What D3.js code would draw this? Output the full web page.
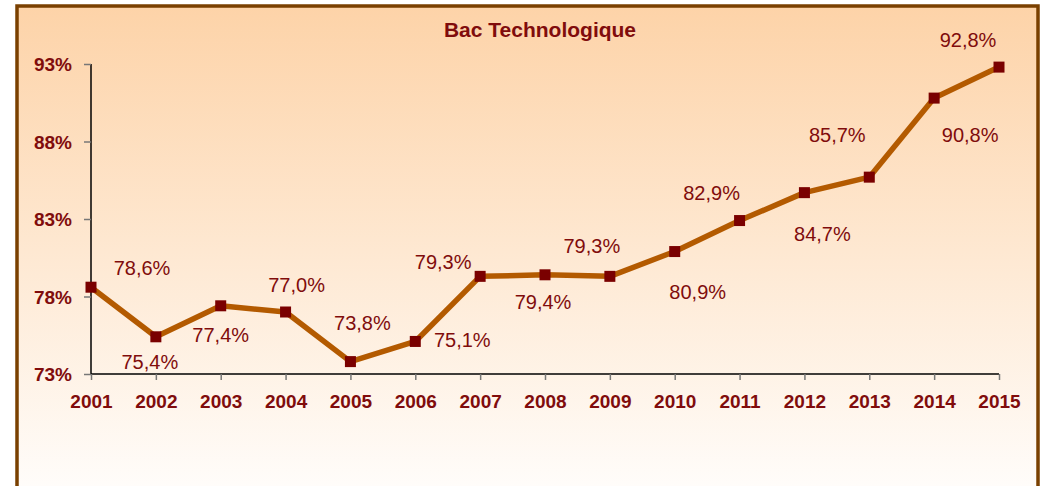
<!DOCTYPE html>
<html>
<head>
<meta charset="utf-8">
<script src="https://cdn.jsdelivr.net/npm/d3@7"></script>
<style>
  html, body { margin: 0; padding: 0; background: #fff; }
  svg { display: block; }
</style>
</head>
<body>
<div id="chart"></div>
<script>
// data
const years = ['2001','2002','2003','2004','2005','2006','2007','2008','2009','2010','2011','2012','2013','2014','2015']
const rates = [78.6, 75.4, 77.4, 77.0, 73.8, 75.1, 79.3, 79.4, 79.3, 80.9, 82.9, 84.7, 85.7, 90.8, 92.8]
const yTicks = [73, 78, 83, 88, 93]
const title = 'Bac Technologique'
// where each value label sits relative to its point (px)
const labelOffsets = [[51,-19],[-6,25],[0,29],[11,-27],[12,-39],[47,-1],[-37,-14],[-2,27],[-18,-30],[23,40],[-28,-28],[18,41],[-32,-42],[36,37],[-31,-27]]

const width = 1046
const height = 486
const margin = { top: 64, left: 91 }
const red = '#800c0c'
const font = 'Liberation Sans, Arial, sans-serif'

const svg = d3.select('#chart').append('svg')
    .attr('width', width)
    .attr('height', height)

const defs = svg.append('defs')
const grad = defs.append('linearGradient')
    .attr('id', 'bg')
    .attr('x1', 0).attr('y1', 0).attr('x2', 0).attr('y2', 1)
grad.append('stop').attr('offset', '0%').attr('stop-color', '#fdd3a8')
grad.append('stop').attr('offset', '100%').attr('stop-color', '#fffefd')

// frame + background
svg.append('rect')
    .attr('x', 17).attr('y', 6)
    .attr('width', 1021).attr('height', 500)
    .attr('fill', 'url(#bg)')
    .attr('stroke', '#7a4000')
    .attr('stroke-width', 3.5)

svg.append('text')
    .attr('x', 540).attr('y', 37)
    .attr('text-anchor', 'middle')
    .attr('font-family', font)
    .attr('font-weight', 'bold')
    .attr('font-size', 21)
    .attr('fill', red)
    .text(title)

const g = svg.append('g')
    .attr('transform', `translate(${margin.left}, ${margin.top})`)

const x = d3.scalePoint()
    .domain(years)
    .range([0, 908])
const y = d3.scaleLinear()
    .domain([73, 93])
    .range([310, 0])

// axes
const yAxis = g.append('g')
    .call(d3.axisLeft(y).tickValues(yTicks).tickSize(7).tickFormat(d => d + '%'))
const xAxis = g.append('g')
    .attr('transform', `translate(0, ${y(73)})`)
    .call(d3.axisBottom(x).tickSize(6).tickPadding(15))
for (const ax of [yAxis, xAxis]) {
    ax.select('.domain').attr('stroke', '#000').attr('stroke-width', 1.5)
    ax.selectAll('.tick line').attr('stroke', '#777').attr('stroke-width', 1.5)
    ax.selectAll('.tick text')
        .attr('fill', red)
        .attr('font-family', font)
        .attr('font-weight', 'bold')
        .attr('font-size', 19)
}
yAxis.selectAll('.tick text').attr('x', -19).attr('dy', '0.36em')
yAxis.select('.domain').attr('d', `M0,${y(93)}V${y(73)}`)
xAxis.select('.domain').attr('d', `M0,0H${x('2015')}`)

// line
const line = d3.line()
    .x((d, i) => x(years[i]))
    .y(d => y(d))
g.append('path')
    .datum(rates)
    .attr('fill', 'none')
    .attr('stroke', '#b35a00')
    .attr('stroke-width', 5.5)
    .attr('stroke-linejoin', 'round')
    .attr('d', line)

// markers
const ms = 11
g.selectAll('rect.pt')
    .data(rates)
    .join('rect')
    .attr('class', 'pt')
    .attr('x', (d, i) => x(years[i]) - ms / 2)
    .attr('y', d => y(d) - ms / 2)
    .attr('width', ms)
    .attr('height', ms)
    .attr('fill', '#7a0000')

// value labels
g.selectAll('text.lbl')
    .data(rates)
    .join('text')
    .attr('class', 'lbl')
    .attr('x', (d, i) => x(years[i]) + labelOffsets[i][0])
    .attr('y', (d, i) => y(d) + labelOffsets[i][1])
    .attr('dy', '0.35em')
    .attr('text-anchor', 'middle')
    .attr('font-family', font)
    .attr('font-size', 20)
    .attr('fill', red)
    .text(d => d.toFixed(1).replace('.', ',') + '%')
</script>
</body>
</html>
